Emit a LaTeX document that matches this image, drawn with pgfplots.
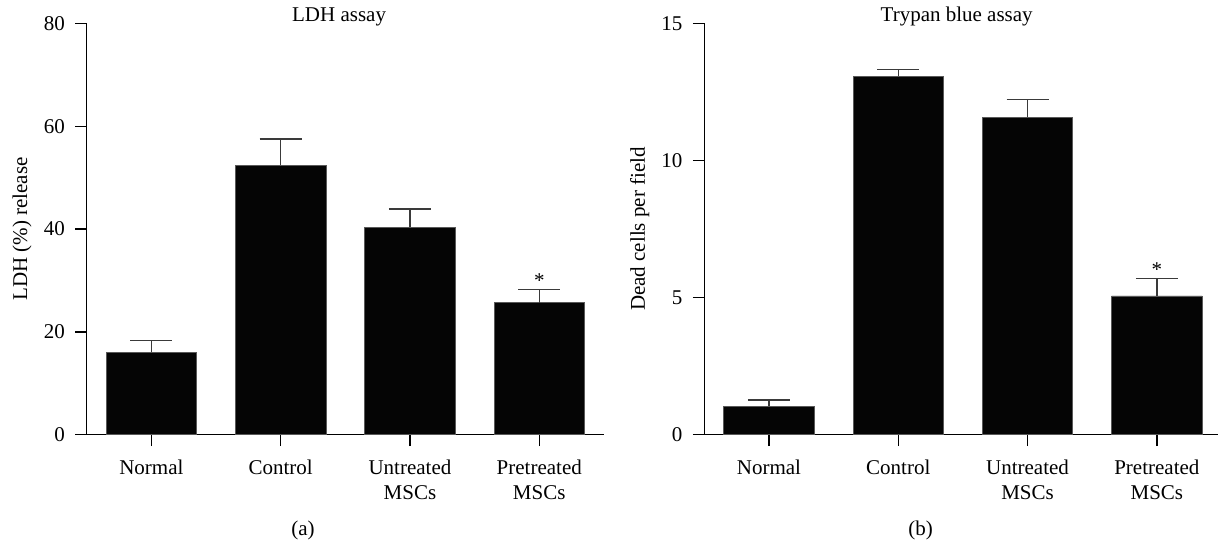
\documentclass[border=0pt]{standalone}
\usepackage{fontspec}
\setmainfont{Liberation Serif}
\usepackage{pgfplots}
\pgfplotsset{compat=1.18}
\usepackage{pgfplotstable}
\definecolor{barblack}{HTML}{050505}
\definecolor{errgray}{HTML}{3A3A3A}
\pgfplotstableread{
x y err
0 16.0 2.3
1 52.4 5.1
2 40.3 3.6
3 25.7 2.5
}\ldh
\pgfplotstableread{
x y err
0 1.04 0.23
1 13.07 0.25
2 11.57 0.66
3 5.06 0.63
}\trypan
\pgfplotsset{
  myaxis/.style={
    scale only axis, width=258.6pt, height=205.7pt,
    axis x line*=bottom, axis y line*=left,
    xmin=-0.5, xmax=3.5, ymin=0,
    xtick={0,1,2,3},
    xticklabels={Normal,Control,{Untreated\\MSCs},{Pretreated\\MSCs}},
    xticklabel style={align=center, yshift=-3pt},
    yticklabel style={xshift=-1.5pt},
    tick align=outside, major tick length=5.75pt,
    tick style={black, line width=0.65pt},
    axis line style={black, line width=0.65pt},
    /pgf/number format/assume math mode=true,
    every axis title shift=0pt,
    title style={at={(axis description cs:0.488,1)}, anchor=base, yshift=0.8pt, inner sep=0pt},
    ylabel style={at={(axis description cs:-0.1251,0.5)}, anchor=center},
    clip=false,
  },
  mybars/.style={ybar, bar width=0.7, fill=barblack, draw=black!65, line width=0.4pt,
    error bars/.cd, y dir=plus, y explicit,
    error bar style={errgray, line width=0.65pt},
    error mark options={rotate=90, errgray, line width=0.65pt, mark size=10.5pt}},
}
\begin{document}
\fontsize{10.5pt}{12.6pt}\selectfont
\begin{tikzpicture}
\useasboundingbox (0,0) rectangle (609pt,272.5pt);
\begin{axis}[myaxis, at={(43.35pt,55.15pt)}, anchor=south west,
  ymax=80, ytick={0,20,40,60,80},
  title={LDH assay}, ylabel={LDH (\%) release}]
\addplot[mybars] table[x=x, y=y, y error=err] {\ldh};
\node at (axis cs:3,29.9) {*};
\end{axis}
\begin{axis}[myaxis, at={(352.15pt,55.15pt)}, anchor=south west,
  ymax=15, ytick={0,5,10,15},
  title={Trypan blue assay}, ylabel={Dead cells per field}]
\addplot[mybars] table[x=x, y=y, y error=err] {\trypan};
\node at (axis cs:3,6.02) {*};
\end{axis}
\node at (151.5pt,7.5pt) {(a)};
\node at (460.35pt,7.5pt) {(b)};
\end{tikzpicture}
\end{document}
